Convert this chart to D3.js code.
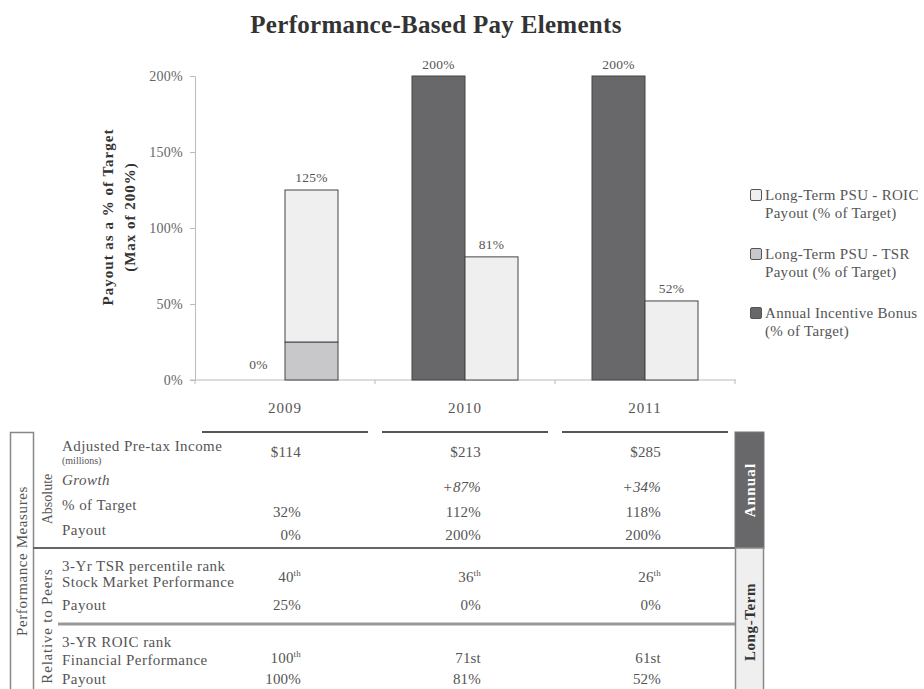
<!DOCTYPE html>
<html>
<head>
<meta charset="utf-8">
<script src="https://cdn.jsdelivr.net/npm/d3@7"></script>
<style>
	body { margin: 0; background: #fff; }
	svg { display: block; font-family: "Liberation Serif", "Times New Roman", serif; }
</style>
</head>
<body>
<svg width="924" height="689"></svg>
<script>
'use strict';

// chart data
const years = ["2009", "2010", "2011"];
const annualBonus = [0, 200, 200];
const tsrPayout = [25, 0, 0];
const roicPayout = [100, 81, 52];
const yTicks = [0, 50, 100, 150, 200];

// table data
const incomeVals = ["$114", "$213", "$285"];
const growthVals = ["", "+87%", "+34%"];
const pctTargetVals = ["32%", "112%", "118%"];
const annualPayoutVals = ["0%", "200%", "200%"];
const tsrRankVals = ["40", "36", "26"];
const tsrRankSup = ["th", "th", "th"];
const tsrPayoutVals = ["25%", "0%", "0%"];
const roicRankVals = ["100", "71st", "61st"];
const roicRankSup = ["th", "", ""];
const roicPayoutVals = ["100%", "81%", "52%"];

const legendItems = [
	{ lines: ["Long-Term PSU - ROIC", "Payout (% of Target)"], color: "#efefef" },
	{ lines: ["Long-Term PSU - TSR", "Payout (% of Target)"], color: "#c8c8ca" },
	{ lines: ["Annual Incentive Bonus", "(% of Target)"], color: "#68686a" }
];

const svg = d3.select("svg");
const textColor = "#555";

const x = d3.scaleBand().domain(years).range([195, 735]);
const inner = d3.scaleBand().domain(["annual", "lt"]).range([37, 143]);
const y = d3.scaleLinear().domain([0, 200]).range([380, 76]);

// title
svg.append("text")
	.attr("x", 436).attr("y", 33)
	.attr("text-anchor", "middle")
	.attr("font-size", 25).attr("font-weight", "bold")
	.attr("letter-spacing", 0.3)
	.attr("fill", "#333")
	.text("Performance-Based Pay Elements");

// y axis
const yAxis = svg.append("g")
	.attr("transform", "translate(195,0)")
	.call(d3.axisLeft(y).tickValues(yTicks).tickSize(5).tickPadding(7).tickFormat(d => d + "%"));
yAxis.select(".domain").attr("stroke", "#bbb");
yAxis.selectAll(".tick line").attr("stroke", "#bbb");
yAxis.selectAll(".tick text")
	.attr("font-family", "Liberation Serif").attr("font-size", 14)
	.attr("letter-spacing", 0.3).attr("fill", "#666");

const yTitle = svg.append("text")
	.attr("transform", "translate(113,217) rotate(-90)")
	.attr("text-anchor", "middle")
	.attr("font-size", 15).attr("font-weight", "bold")
	.attr("letter-spacing", 1)
	.attr("fill", "#333");
yTitle.append("tspan").attr("x", 0).attr("dy", 0).text("Payout as a % of Target");
yTitle.append("tspan").attr("x", 0).attr("dy", 22).text("(Max of 200%)");

// x axis
const xAxis = svg.append("g");
xAxis.append("line")
	.attr("x1", 190).attr("x2", 736)
	.attr("y1", y(0)).attr("y2", y(0))
	.attr("stroke", "#bbb");
xAxis.selectAll(".xtick")
	.data(years.map(d => x(d)).concat([x.range()[1]]))
	.enter().append("line")
	.attr("x1", d => d).attr("x2", d => d)
	.attr("y1", y(0)).attr("y2", y(0) + 4)
	.attr("stroke", "#bbb");
xAxis.selectAll(".xlabel")
	.data(years)
	.enter().append("text")
	.attr("x", d => x(d) + x.bandwidth() / 2)
	.attr("y", 413)
	.attr("text-anchor", "middle")
	.attr("font-size", 15).attr("letter-spacing", 1)
	.attr("fill", textColor)
	.text(d => d);

// bars
const bars = svg.append("g");
years.forEach((yr, i) => {
	const x0 = x(yr);
	// annual bonus
	bars.append("rect")
		.attr("x", x0 + inner("annual")).attr("width", inner.bandwidth())
		.attr("y", y(annualBonus[i])).attr("height", y(0) - y(annualBonus[i]))
		.attr("fill", "#68686a").attr("stroke", "#444").attr("stroke-width", 1);
	bars.append("text")
		.attr("x", x0 + inner("annual") + inner.bandwidth() / 2)
		.attr("y", y(annualBonus[i]) - (annualBonus[i] === 0 ? 11 : 7))
		.attr("text-anchor", "middle")
		.attr("font-size", 13.5).attr("letter-spacing", 0.3)
		.attr("fill", textColor)
		.text(annualBonus[i] + "%");

	// long term stack
	const lx = x0 + inner("lt");
	if (tsrPayout[i] > 0) {
		bars.append("rect")
			.attr("x", lx).attr("width", inner.bandwidth())
			.attr("y", y(tsrPayout[i])).attr("height", y(0) - y(tsrPayout[i]))
			.attr("fill", "#c8c8ca").attr("stroke", "#444");
	}
	const top = tsrPayout[i] + roicPayout[i];
	bars.append("rect")
		.attr("x", lx).attr("width", inner.bandwidth())
		.attr("y", y(top)).attr("height", y(tsrPayout[i]) - y(top))
		.attr("fill", "#efefef").attr("stroke", "#444");
	bars.append("text")
		.attr("x", lx + inner.bandwidth() / 2)
		.attr("y", y(top) - 8)
		.attr("text-anchor", "middle")
		.attr("font-size", 13.5).attr("letter-spacing", 0.3)
		.attr("fill", textColor)
		.text(top + "%");
});

// legend
const legend = svg.append("g").attr("transform", "translate(750,0)");
legendItems.forEach((item, i) => {
	const ly = 195 + i * 59;
	legend.append("rect")
		.attr("x", 0.5).attr("y", ly - 5.5)
		.attr("width", 11).attr("height", 11)
		.attr("rx", 1.5)
		.attr("fill", item.color).attr("stroke", "#555");
	item.lines.forEach((line, j) => {
		legend.append("text")
			.attr("x", 15).attr("y", ly + 5 + j * 18)
			.attr("font-size", 15).attr("letter-spacing", 0.3)
			.attr("fill", textColor)
			.text(line);
	});
});

// table
const table = svg.append("g");
const colRight = d => x(d) + x.bandwidth() / 2 + 16;

// header segments
years.forEach(yr => {
	table.append("line")
		.attr("x1", x(yr) + 7).attr("x2", x(yr) + x.bandwidth() - 7)
		.attr("y1", 432).attr("y2", 432)
		.attr("stroke", "#555").attr("stroke-width", 2);
});

// outer box for "Performance Measures"
table.append("path")
	.attr("d", "M10.5,700V432.5H33.5V700")
	.attr("fill", "none").attr("stroke", "#888").attr("stroke-width", 1.5);

// separators
table.append("line")
	.attr("x1", 33).attr("x2", 735).attr("y1", 548).attr("y2", 548)
	.attr("stroke", "#666").attr("stroke-width", 2);
table.append("line")
	.attr("x1", 58).attr("x2", 735).attr("y1", 624).attr("y2", 624)
	.attr("stroke", "#999").attr("stroke-width", 3);

// side boxes
table.append("rect")
	.attr("x", 735).attr("y", 432).attr("width", 29).attr("height", 116)
	.attr("fill", "#68686a").attr("stroke", "#777");
table.append("rect")
	.attr("x", 735.5).attr("y", 548).attr("width", 28).attr("height", 160)
	.attr("fill", "#efefef").attr("stroke", "#888").attr("stroke-width", 1.5);

function vText(cx, cy, txt, opts) {
	table.append("text")
		.attr("transform", `translate(${cx},${cy}) rotate(-90)`)
		.attr("text-anchor", "middle")
		.attr("dominant-baseline", "central")
		.attr("font-size", opts.size || 15)
		.attr("letter-spacing", opts.spacing || 0)
		.attr("font-weight", opts.bold ? "bold" : "normal")
		.attr("fill", opts.color || textColor)
		.text(txt);
}
vText(22, 561, "Performance Measures", { size: 15, spacing: 0.6 });
vText(47, 499, "Absolute", { size: 14 });
vText(47, 626, "Relative to Peers", { size: 15, spacing: 0.8 });
vText(750, 490, "Annual", { bold: true, color: "#fff", size: 15, spacing: 1.2 });
vText(750, 622, "Long-Term", { bold: true, color: "#333", size: 15, spacing: 0.6 });

// row labels
const rowLabels = [
	{ t: "Adjusted Pre-tax Income", y: 451 },
	{ t: "(millions)", y: 464, size: 10 },
	{ t: "Growth", y: 485, italic: true },
	{ t: "% of Target", y: 510 },
	{ t: "Payout", y: 535 },
	{ t: "3-Yr TSR percentile rank", y: 571 },
	{ t: "Stock Market Performance", y: 587 },
	{ t: "Payout", y: 610 },
	{ t: "3-YR ROIC rank", y: 647 },
	{ t: "Financial Performance", y: 665 },
	{ t: "Payout", y: 684 }
];
rowLabels.forEach(r => {
	table.append("text")
		.attr("x", 62).attr("y", r.y)
		.attr("font-size", r.size || 15)
		.attr("letter-spacing", r.size ? 0 : 0.45)
		.attr("font-style", r.italic ? "italic" : "normal")
		.attr("fill", textColor)
		.text(r.t);
});

// value rows
function valueRow(vals, yy, opts) {
	opts = opts || {};
	years.forEach((yr, i) => {
		const t = table.append("text")
			.attr("x", colRight(yr)).attr("y", yy)
			.attr("text-anchor", "end")
			.attr("font-size", 15).attr("letter-spacing", 0.2)
			.attr("font-style", opts.italic ? "italic" : "normal")
			.attr("fill", textColor);
		t.append("tspan").text(vals[i]);
		if (opts.sup && opts.sup[i]) {
			t.append("tspan").attr("font-size", 9).attr("dy", -6).text(opts.sup[i]);
		}
	});
}
valueRow(incomeVals, 457);
valueRow(growthVals, 492, { italic: true });
valueRow(pctTargetVals, 517);
valueRow(annualPayoutVals, 540);
valueRow(tsrRankVals, 582, { sup: tsrRankSup });
valueRow(tsrPayoutVals, 610);
valueRow(roicRankVals, 663, { sup: roicRankSup });
valueRow(roicPayoutVals, 684);
</script>
</body>
</html>
